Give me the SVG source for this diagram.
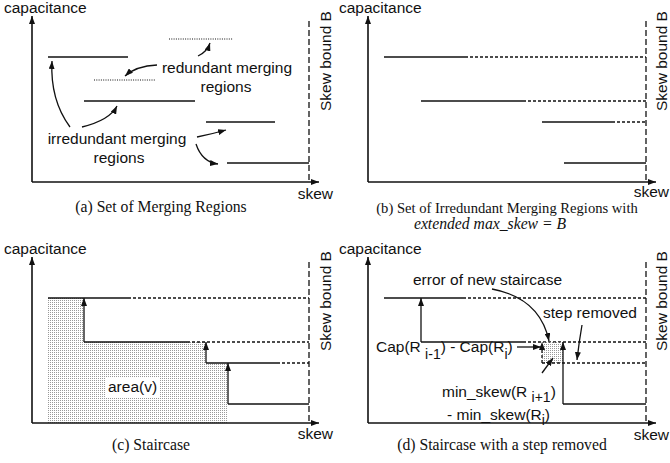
<svg xmlns="http://www.w3.org/2000/svg" width="670" height="463" viewBox="0 0 670 463">
<style>
.t{font-family:"Liberation Sans",Arial,sans-serif;font-size:15.5px;fill:#111}
.sub{font-size:14px}
.cap{font-family:"Liberation Serif","Times New Roman",serif;font-size:15.7px;fill:#111}
.ax{stroke:#111;stroke-width:1.6;fill:none}
.s{stroke:#111;stroke-width:1.4;fill:none}
.d{stroke:#111;stroke-width:1.3;stroke-dasharray:3 2;fill:none}
.f{stroke:#111;stroke-width:1;stroke-dasharray:1 1.3;fill:none}
.v{stroke:#111;stroke-width:1.3;stroke-dasharray:6 3;fill:none}
.ar{stroke:#111;stroke-width:1.3;fill:none;marker-end:url(#ah)}
</style>
<defs>
<marker id="ah" markerUnits="userSpaceOnUse" markerWidth="8" markerHeight="6" refX="8" refY="3" orient="auto">
<path d="M0,0 L8,3 L0,6 z" fill="#111"/>
</marker>
<pattern id="dots" width="2" height="2" patternUnits="userSpaceOnUse">
<rect width="1" height="1" fill="#999"/>
</pattern>
</defs>
<rect width="670" height="463" fill="#fff"/>

<g id="panel-a">
<text class="t" x="4" y="13">capacitance</text>
<path class="ax" d="M32,182 V16" marker-end="url(#ah)"/>
<path class="ax" d="M32,182 H319" marker-end="url(#ah)"/>
<path class="v" d="M309,21 V182"/>
<text class="t" transform="translate(331,111) rotate(-90)">Skew bound B</text>
<text class="t" x="333" y="199" text-anchor="end">skew</text>
<path class="s" d="M48,57 H128"/>
<path class="f" d="M169,39 H233"/>
<path class="f" d="M94,80 H155"/>
<path class="s" d="M84,101 H195"/>
<path class="s" d="M206,122 H275"/>
<path class="s" d="M227,163 H309"/>
<text class="t" x="227" y="73" text-anchor="middle">redundant merging</text>
<text class="t" x="226" y="92" text-anchor="middle">regions</text>
<text class="t" x="117" y="144" text-anchor="middle">irredundant merging</text>
<text class="t" x="119" y="163" text-anchor="middle">regions</text>
<text class="cap" x="161" y="212" text-anchor="middle">(a) Set of Merging Regions</text>
</g>

<g id="panel-b">
<text class="t" x="339" y="13">capacitance</text>
<path class="ax" d="M368,182 V16" marker-end="url(#ah)"/>
<path class="ax" d="M368,182 H656" marker-end="url(#ah)"/>
<path class="v" d="M646,21 V182"/>
<text class="t" transform="translate(667,111) rotate(-90)">Skew bound B</text>
<text class="t" x="669" y="197" text-anchor="end">skew</text>
<path class="s" d="M384,57 H465"/><path class="d" d="M465,57 H646"/>
<path class="s" d="M421,101 H523"/><path class="d" d="M523,101 H646"/>
<path class="s" d="M542,122 H612"/><path class="d" d="M612,122 H646"/>
<path class="s" d="M564,163 H646"/>
<text class="cap" x="507" y="213" text-anchor="middle" style="font-size:14.6px">(b) Set of Irredundant Merging Regions with</text>
<text class="cap" x="490" y="229" text-anchor="middle" font-style="italic">extended max_skew = B</text>
</g>

<g id="panel-c">
<text class="t" x="4" y="254">capacitance</text>
<polygon points="48,298 84,298 84,342 206,342 206,363 228,363 228,423 48,423" fill="url(#dots)"/>
<rect x="105" y="378" width="55" height="19" fill="#fff"/>
<text class="t" x="108" y="392">area(v)</text>
<path class="ax" d="M32,423 V257" marker-end="url(#ah)"/>
<path class="ax" d="M32,423 H319" marker-end="url(#ah)"/>
<path class="v" d="M309,262 V423"/>
<text class="t" transform="translate(331,351) rotate(-90)">Skew bound B</text>
<text class="t" x="333" y="439" text-anchor="end">skew</text>
<path class="s" d="M48,298 H128"/><path class="d" d="M128,298 H309"/>
<path class="s" d="M84,342 H187"/><path class="d" d="M187,342 H309"/>
<path class="s" d="M206,363 H277"/><path class="d" d="M277,363 H309"/>
<path class="s" d="M228,404 H309"/>
<text class="cap" x="151" y="450" text-anchor="middle">(c) Staircase</text>
</g>

<g id="panel-d">
<text class="t" x="339" y="254">capacitance</text>
<path class="ax" d="M368,423 V257" marker-end="url(#ah)"/>
<path class="ax" d="M368,423 H656" marker-end="url(#ah)"/>
<path class="v" d="M646,262 V423"/>
<text class="t" transform="translate(667,351) rotate(-90)">Skew bound B</text>
<text class="t" x="669" y="440" text-anchor="end">skew</text>
<path class="s" d="M384,298 H463"/><path class="d" d="M463,298 H646"/>
<path class="s" d="M421,342 H523"/><path class="d" d="M523,342 H646"/>
<rect x="542" y="342" width="21" height="21" fill="url(#dots)"/>
<path class="d" d="M542,363 H646"/>
<path class="s" d="M563,404 H646"/>
<text class="t" x="413" y="285">error of new staircase</text>
<text class="t" x="543" y="318">step removed</text>
<text class="t" x="376" y="352">Cap(R <tspan class="sub" dy="7">i-1</tspan><tspan dy="-7">) - Cap(R</tspan><tspan class="sub" dy="7">i</tspan><tspan dy="-7">)</tspan></text>
<text class="t" x="442" y="397">min_skew(R <tspan class="sub" dy="5">i+1</tspan><tspan dy="-5">)</tspan></text>
<text class="t" x="447" y="420">- min_skew(R<tspan class="sub" dy="5">i</tspan><tspan dy="-5">)</tspan></text>
<text class="cap" x="502" y="450" text-anchor="middle">(d) Staircase with a step removed</text>
</g>

<g id="connectors">
<path class="ar" d="M157,65 Q136,66 125,76"/>
<path class="ar" d="M198,56 Q207,52 210,43"/>
<path class="ar" d="M70,127 Q50,100 52,61"/>
<path class="ar" d="M82,127 Q110,120 117,106"/>
<path class="ar" d="M197,137 Q212,134 226,130"/>
<path class="ar" d="M196,144 Q202,162 218,164"/>
<path class="ar" d="M84,342 V298"/>
<path class="ar" d="M206,363 V342"/>
<path class="ar" d="M228,404 V363"/>
<path class="ar" d="M421,342 V298"/>
<path class="d" d="M542,363 V348"/>
<path class="ar" d="M542,349 V342" style="stroke-width:0.01"/>
<path class="ar" d="M563,404 V342"/>
<path class="ar" d="M492,289 Q540,298 549,341"/>
<path class="ar" d="M582,325 Q579,342 577,360"/>
<path class="ar" d="M517,347 H541"/>
<path class="ar" d="M542,373 L553,358"/>
</g>
</svg>
